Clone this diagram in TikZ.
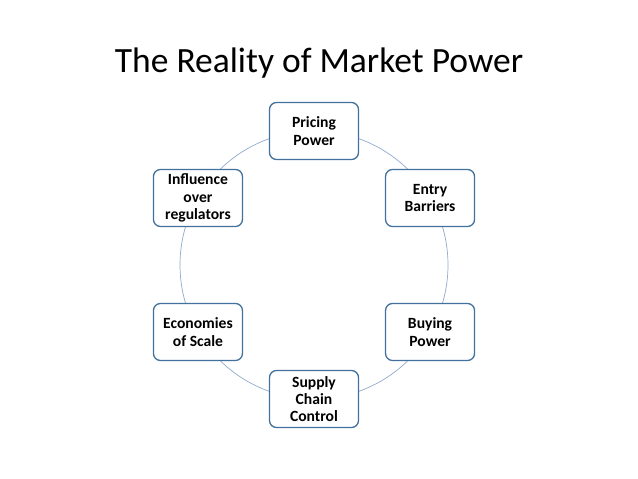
\documentclass[tikz,border=0pt]{standalone}
\usepackage{fontspec}
\setmainfont{Carlito}
\usetikzlibrary{calc}
\definecolor{boxline}{HTML}{41719C}
\definecolor{ringline}{HTML}{8FAACC}
\begin{document}
\begin{tikzpicture}[x=1pt,y=1pt,
  cyclebox/.style={draw=boxline, line width=1.3pt, fill=white, rounded corners=7pt,
    minimum width=89pt, minimum height=57pt, align=center, inner sep=1pt,
    font=\fontsize{15.6}{17.4}\selectfont\bfseries},
  ring/.style={draw=ringline, line width=0.7pt}]
\useasboundingbox (0,0) rectangle (638,479);
\node[font=\fontsize{35.5}{40}\selectfont] (title) at (319,416) {The Reality of Market Power};
\coordinate (c) at (314,214);
\draw[ring] (c) circle (134);
\node[cyclebox] (pp) at ($(c)+(90:134)$) {Pricing\\Power};
\node[cyclebox] (eb) at ($(c)+(30:134)$) {Entry\\Barriers};
\node[cyclebox] (bp) at ($(c)+(-30:134)$) {Buying\\Power};
\node[cyclebox] (sc) at ($(c)+(-90:134)$) {Supply\\Chain\\Control};
\node[cyclebox] (es) at ($(c)+(-150:134)$) {Economies\\of Scale};
\node[cyclebox] (ir) at ($(c)+(150:134)$) {Influence\\over\\regulators};
\end{tikzpicture}
\end{document}
